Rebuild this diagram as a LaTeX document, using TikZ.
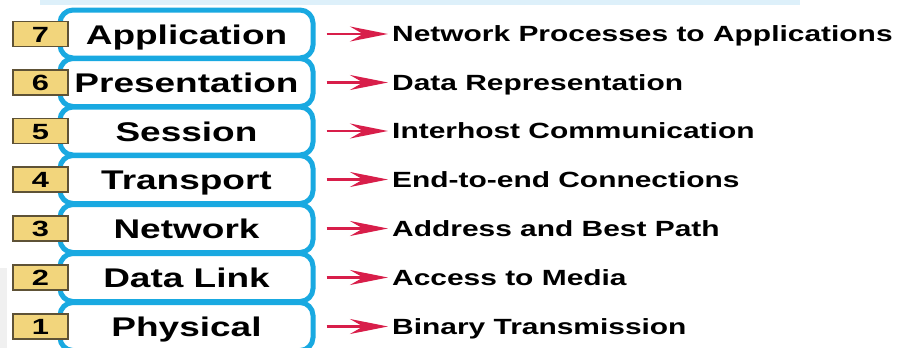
\documentclass[tikz,border=0pt]{standalone}
\usepackage{fontspec}
\usetikzlibrary{arrows.meta}
\newfontfamily\layfont[FakeStretch=1.37]{Liberation Sans}
\newfontfamily\descfont[FakeStretch=1.36]{Liberation Sans}
\newfontfamily\numfont[FakeStretch=1.4]{Liberation Sans}
\definecolor{osiblue}{HTML}{19A9E1}
\definecolor{osired}{HTML}{D81E4A}
\definecolor{numfill}{HTML}{F2D57C}
\definecolor{numdraw}{HTML}{5E5236}
\definecolor{paleblue}{HTML}{DDF0FA}
\definecolor{palegrey}{HTML}{F0F0F0}
\tikzset{
  layerbox/.style={draw=osiblue, line width=5pt, rounded corners=13pt, fill=white,
    minimum width=253pt, minimum height=48pt, inner sep=0pt},
  numbox/.style={draw=numdraw, fill=numfill, line width=1.6pt,
    minimum width=55pt, minimum height=25pt, inner sep=0pt},
  numtext/.style={font=\numfont\bfseries\fontsize{22}{22}\selectfont, anchor=base, inner sep=0pt},
  laytext/.style={font=\layfont\bfseries\fontsize{27}{27}\selectfont, anchor=base, inner sep=0pt},
  desctext/.style={font=\descfont\bfseries\fontsize{22}{22}\selectfont, anchor=base west, inner sep=0pt},
  redarrow/.style={draw=osired, line width=2.8pt,
    -{Stealth[length=38pt,width=15pt,inset=13pt]}}
}
\begin{document}
\begin{tikzpicture}[x=1pt,y=1pt]
\useasboundingbox (0,0) rectangle (897,-348);
\fill[paleblue] (40,0) rectangle (800,-5);
\fill[palegrey] (0,-268) rectangle (7,-348);
\foreach \n/\c/\lay/\desc in {
  7/34/Application/Network Processes to Applications,
  6/82.5/Presentation/Data Representation,
  5/131/Session/Interhost Communication,
  4/179.5/Transport/End-to-end Connections,
  3/228.5/Network/Address and Best Path,
  2/277.5/Data Link/Access to Media,
  1/326.5/Physical/Binary Transmission}{
  \node[layerbox] (box\n) at (186.5,-\c) {};
}
\foreach \n/\c/\lay/\desc in {
  7/34/Application/Network Processes to Applications,
  6/82.5/Presentation/Data Representation,
  5/131/Session/Interhost Communication,
  4/179.5/Transport/End-to-end Connections,
  3/228.5/Network/Address and Best Path,
  2/277.5/Data Link/Access to Media,
  1/326.5/Physical/Binary Transmission}{
  \node[laytext] (lay\n) at (186.5,-\c-10) {\lay};
  \node[numbox] (num\n) at (40.5,-\c) {};
  \node[numtext] (numt\n) at (40.5,-\c-8) {\n};
  \node[desctext] (desc\n) at (392,-\c-7.8) {\desc};
  \draw[redarrow] ([xshift=11pt]box\n.east) -- ([xshift=-4pt]desc\n.west |- box\n.east);
}
\end{tikzpicture}
\end{document}
